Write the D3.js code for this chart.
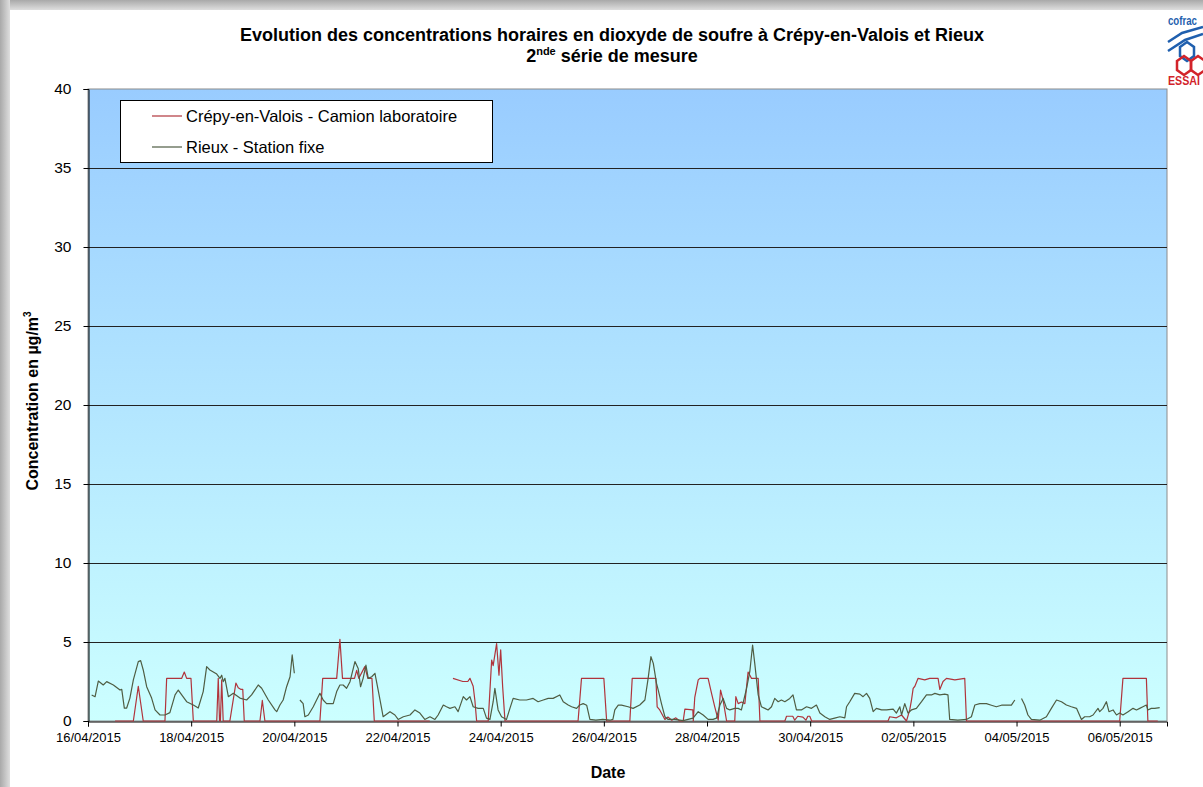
<!DOCTYPE html>
<html><head><meta charset="utf-8">
<script src="https://cdn.jsdelivr.net/npm/d3@7"></script>
<style>html,body{margin:0;padding:0;background:#fff;overflow:hidden}svg{display:block;font-family:"Liberation Sans",Arial,sans-serif}</style>
</head><body><svg id="c" width="1203" height="787"></svg>
<script>
// ---- data (hours since 16/04/2015 00:00, values in µg/m3) ----
const seriesNames = ["Crépy-en-Valois - Camion laboratoire", "Rieux - Station fixe"];
const tickLabels = ["16/04/2015","18/04/2015","20/04/2015","22/04/2015","24/04/2015","26/04/2015","28/04/2015","30/04/2015","02/05/2015","04/05/2015","06/05/2015"];
const yTicks = [0,5,10,15,20,25,30,35,40];

const rieuxHours = [1.7,3.3,4.8,7.1,8.7,11.8,14.9,15.7,16.9,18,19.5,21.1,23.4,24.5,25.7,27.3,29.6,31.2,33.5,35.8,38.1,40.5,42,43.6,45.9,49,51.3,53.6,55.2,56.7,59.9,61.4,62.2,62.9,63.7,65.3,67.6,70.7,73.8,76.1,79.2,80.8,83.9,87,87.8,89.3,90.8,92.4,94,95,96,97.3,
98.6,100.1,100.9,102.5,104.8,107.9,109.4,111,114.1,115.7,117.2,118.7,120.3,121.9,124.2,125.7,126.8,128,129.3,130.4,132,133.5,135,136.6,137.3,140.5,142.8,144.3,146.7,149.8,152.1,154.4,156.7,159.1,161.4,162.9,165.3,166.8,168.4,170.7,172.2,174.6,176.1,177.7,179.2,181.5,183.9,185.4,187,188.5,189.3,190.8,192.4,194.7,196.3,197.8,200.9,204,207.1,209.4,211.8,214.1,216.4,219.5,221.1,223.4,225,227.3,228.8,230.4,232,233.5,236.3,239.5,242.8,244.2,245.1,246.7,248.2,251.3,253.6,256.7,259.1,260.6,261.9,263,264.5,265.3,266.8,268.4,269.9,273,276.9,281.5,283.9,286.2,288.5,290.8,292.4,294,295.5,297.1,298.6,300.9,302.5,304,306.4,307.9,309.2,310.2,311.8,313.3,314.9,316.4,318,319.5,321.1,322.6,324.2,326.5,328,329.6,331.9,334.3,336.6,338.9,340.5,342.8,345.1,347.4,349.8,352.1,352.9,354.4,356.7,359.1,360.6,362.2,363.7,365.3,366.8,369.2,371.5,374.6,376.1,377.7,378.5,380,381.5,383.1,385.4,387.8,390.1,392.4,394,396.3,398.6,400.1,400.9,404.7,408.7,411,412.6,414.9,418,420.3,422.6,425,427.3,429.6,431.2,432.8,
434.3,435.8,437.3,438.9,442.8,445.9,448.2,450.6,452.9,455.2,457.5,459.9,462.2,463.7,466,467.6,469.9,470.7,472.2,473.8,475,476.9,478.5,480,481.5,483.9,486.2,487.8,489.3,490.8,492.4,493.1,494.7,496.3,498.6];
const rieuxValues = [1.65,1.54,2.53,2.28,2.49,2.28,1.96,2.0,0.82,0.82,1.45,2.6,3.76,3.82,3.23,2.17,1.45,0.7,0.38,0.38,0.53,1.65,1.96,1.65,1.22,1.01,0.82,1.86,3.44,3.23,2.97,2.7,2.9,2.49,2.7,1.54,1.75,1.45,1.33,1.65,2.28,2.07,1.33,0.7,0.59,1.01,1.33,2.17,2.8,4.18,3.02,null,
1.33,1.1,0.27,0.38,0.9,1.75,1.33,1.1,1.1,1.86,2.28,2.28,2.07,2.49,3.76,3.33,2.17,2.7,3.54,2.7,2.8,3.02,1.96,0.8,0.27,0.59,0.38,0.1,0.27,0.38,0.7,0.5,0.1,0.27,0.1,0.38,1.01,0.9,0.8,0.9,0.59,1.54,1.33,1.54,0.9,0.8,0.8,0.18,0.1,1.22,2.07,0.7,0.27,0.1,0.8,1.43,1.33,1.33,1.43,1.22,1.33,1.43,1.43,1.65,1.22,1.01,0.9,0.8,1.01,1.1,1.0,0.1,0.05,0.1,0.05,0.1,0.7,1.01,1.0,0.9,0.8,1.01,1.33,2.7,4.07,3.65,2.38,1.96,1.1,0.27,0.1,0.1,0.02,0.18,0.59,0.38,0.1,0.1,0.18,1.01,1.43,0.8,0.7,0.8,0.8,0.7,2.07,3.12,4.81,3.65,1.65,0.9,0.8,0.7,0.9,1.43,1.22,1.33,1.22,1.43,1.65,0.7,0.7,0.9,0.8,1.01,0.5,0.27,0.1,0.18,0.27,0.2,0.9,1.22,1.75,1.7,1.54,1.75,1.43,0.59,0.8,0.7,0.7,0.75,0.5,0.9,0.38,1.1,0.5,0.7,0.8,1.22,1.65,1.65,1.75,1.65,1.7,1.65,0.1,0.05,0.1,0.27,1.01,1.1,1.1,1.0,0.9,1.0,1.0,1.0,1.33,null,
1.43,1.01,0.38,0.1,0.05,0.27,0.8,1.33,1.22,1.01,0.9,0.8,0.1,0.27,0.27,0.38,0.8,0.59,0.8,1.22,0.59,0.7,0.38,0.5,0.38,0.59,0.8,0.7,0.8,0.9,1.01,0.7,0.8,0.8,0.85];

const crepyHours = [12.6,21.1,23.4,25.7,35.8,36.6,43.6,44.8,45.9,47.9,49,59.9,60.6,61.2,61.6,62.2,62.9,66,68.8,69.9,71.2,72,72.7,80,81.1,82.3,107.9,109.2,115.7,117.2,118.4,124,125,126,128.8,130.2,132.1,133.2,159,160,
169.8,174.4,176.7,177.7,179.2,180,180.8,186.2,187.8,188.5,190.1,191.2,192,192.9,194,228,229.6,240,241.3,252.1,253.2,264.2,264.8,266,268.4,269.8,271.6,273.5,275.3,276.9,277.7,281.4,281.6,282.3,283.9,284.7,288.5,290.1,291.6,293.2,294.3,295.5,297.1,300.9,301.4,302.5,304,305.6,307.1,308.7,311.8,312.6,324.2,325,327.9,328.8,330.2,332.6,334,334.9,335.8,336.7,372.2,373,376.1,378.5,380.8,382.3,383.1,383.9,384.7,386.2,389.3,391.6,395.5,396.3,397.8,399.4,403.3,407.9,408.7,480,481.5,492.4,493.1,497.7];
const crepyValues = [0,0,2.2,0,0,2.7,2.7,3.1,2.7,2.7,0,0,2.7,0,0,2.6,0,0,2.4,2.1,2.0,2.0,0,0,1.3,0,0,2.7,2.7,5.17,2.7,2.7,3.2,2.7,3.44,2.7,2.7,0,0,null,
2.7,2.5,2.5,2.7,2.2,1.3,0,0,3.86,3.5,4.9,2.9,4.5,2.2,0,0,2.7,2.7,0,0,2.7,2.7,0.9,0.7,0.1,0.25,0.05,0.2,0,0,0.75,0.7,0,1.5,2.6,2.7,2.7,1.75,0.9,0.05,1.96,1.3,0,0,1.54,1.1,1.2,1.1,3.1,2.7,2.7,0,0,0.3,0.3,0.05,0.3,0.25,0.05,0.3,0.3,0,0,0.27,0.2,0.38,0,0.7,1.3,2.07,2.2,2.7,2.6,2.7,2.7,2.0,2.5,2.7,2.6,2.7,0,0,2.7,2.7,0,0];

const colors = ["#b0343c", "#4f5d43"];

// ---- chart ----
const svg = d3.select("#c");
const W = 1203, H = 787;
const m = {left: 88, right: 1167, top: 89, bottom: 721};
const t0 = Date.UTC(2015, 3, 16);
const toDate = h => new Date(t0 + h * 3600e3);
const parse = d3.utcParse("%d/%m/%Y");

const x = d3.scaleUtc().domain([toDate(0), toDate(502)]).range([m.left, m.right]);
const y = d3.scaleLinear().domain([0, 40]).range([m.bottom, m.top]);

const defs = svg.append("defs");
const g1 = defs.append("linearGradient").attr("id","bg").attr("x1",0).attr("y1",0).attr("x2",0).attr("y2",1);
g1.append("stop").attr("offset","0%").attr("stop-color","#99ccff");
g1.append("stop").attr("offset","100%").attr("stop-color","#ccffff");
const gt = defs.append("linearGradient").attr("id","shT").attr("x1",0).attr("y1",0).attr("x2",0).attr("y2",1);
gt.append("stop").attr("offset","0%").attr("stop-color","#a9a9a9");
gt.append("stop").attr("offset","100%").attr("stop-color","#dedede");
const gl = defs.append("linearGradient").attr("id","shL").attr("x1",0).attr("y1",0).attr("x2",1).attr("y2",0);
gl.append("stop").attr("offset","0%").attr("stop-color","#a9a9a9");
gl.append("stop").attr("offset","100%").attr("stop-color","#dedede");

svg.append("rect").attr("width",W).attr("height",H).attr("fill","#fff");
svg.append("rect").attr("x",0).attr("y",0).attr("width",W).attr("height",10).attr("fill","url(#shT)");
svg.append("rect").attr("x",0).attr("y",0).attr("width",10).attr("height",H).attr("fill","url(#shL)");
svg.append("rect").attr("x",10).attr("y",10).attr("width",W-10).attr("height",H-10).attr("fill","#fff");

// plot area
svg.append("rect").attr("x",m.left).attr("y",m.top).attr("width",m.right-m.left).attr("height",m.bottom-m.top)
  .attr("fill","url(#bg)").attr("stroke","#8c8c8c").attr("stroke-width",1);

// gridlines
svg.append("g").selectAll("line").data(yTicks.filter(v => v > 0 && v < 40)).join("line")
  .attr("x1",m.left).attr("x2",m.right).attr("y1",d => Math.round(y(d))+0.5).attr("y2",d => Math.round(y(d))+0.5)
  .attr("stroke","#222").attr("stroke-width",1);

// axes
const yAxis = d3.axisLeft(y).tickValues(yTicks).tickSize(5).tickPadding(12).tickFormat(d3.format("d"));
const ya = svg.append("g").attr("transform",`translate(${m.left+0.5},0)`).call(yAxis);
ya.select(".domain").attr("stroke","#000");
ya.selectAll("text").attr("font-size",15.5).attr("fill","#000").attr("font-family","Liberation Sans, Arial, sans-serif");

const xAxis = d3.axisBottom(x).tickValues(tickLabels.map(parse)).tickSize(5).tickPadding(6).tickFormat(d3.utcFormat("%d/%m/%Y"));
const xa = svg.append("g").attr("transform",`translate(0,${m.bottom+0.5})`).call(xAxis);
xa.select(".domain").attr("stroke","#000");
xa.selectAll("text").attr("font-size",13).attr("fill","#000").attr("font-family","Liberation Sans, Arial, sans-serif");

// lines
const mk = (hs, vs) => hs.map((h,i) => ({d: toDate(h), v: vs[i]}));
const line = d3.line().defined(p => p.v != null).x(p => x(p.d)).y(p => y(p.v));
const series = [mk(crepyHours, crepyValues), mk(rieuxHours, rieuxValues)];
svg.append("g").selectAll("path").data(series).join("path")
  .attr("d", line).attr("fill","none").attr("stroke",(d,i) => colors[i]).attr("stroke-width",1.2).attr("stroke-linejoin","round");

// legend
const lg = svg.append("g");
lg.append("rect").attr("x",120.5).attr("y",100.5).attr("width",372).attr("height",62).attr("fill","#fff").attr("stroke","#000");
seriesNames.forEach((n,i) => {
  const yy = 116 + i*31;
  lg.append("line").attr("x1",152).attr("x2",182).attr("y1",yy).attr("y2",yy).attr("stroke",colors[i]).attr("stroke-width",1.2);
  lg.append("text").attr("x",186).attr("y",yy+6).attr("font-size",16.5).attr("fill","#000").text(n);
});

// titles
svg.append("text").attr("x",612).attr("y",41).attr("text-anchor","middle").attr("font-weight","bold").attr("font-size",18).attr("fill","#000")
  .text("Evolution des concentrations horaires en dioxyde de soufre à Crépy-en-Valois et Rieux");
const t2 = svg.append("text").attr("x",612).attr("y",62).attr("text-anchor","middle").attr("font-weight","bold").attr("font-size",18).attr("fill","#000");
t2.append("tspan").text("2");
t2.append("tspan").attr("font-size",11).attr("dy",-7).text("nde");
t2.append("tspan").attr("dy",7).text(" série de mesure");

const yt = svg.append("text").attr("transform","translate(38,401) rotate(-90)").attr("text-anchor","middle").attr("font-weight","bold").attr("font-size",16).attr("fill","#000");
yt.append("tspan").text("Concentration  en µg/m");
yt.append("tspan").attr("font-size",10).attr("dy",-7).text("3");

svg.append("text").attr("x",608).attr("y",778).attr("text-anchor","middle").attr("font-weight","bold").attr("font-size",16).attr("fill","#000").text("Date");

// logo (partially visible at the right edge)
const lo = svg.append("g");
lo.append("text").attr("x",1168).attr("y",25).attr("font-size",12).attr("font-weight","bold").attr("fill","#1f5fae")
  .attr("textLength",29).attr("lengthAdjust","spacingAndGlyphs").text("cofrac");
lo.append("path").attr("d","M1168,42 L1182,33 L1203,27 M1168,51 L1185,40 L1203,34").attr("stroke","#1f5fae").attr("stroke-width",2.5).attr("fill","none");
lo.append("path").attr("d","M1180,47 l7,-5 l7,5 l0,9 l-7,5 l-7,-5 z").attr("stroke","#1f5fae").attr("stroke-width",2.5).attr("fill","none");
lo.append("path").attr("d","M1177,61 l7,-5 l7,5 l0,9 l-7,5 l-7,-5 z").attr("stroke","#d2232a").attr("stroke-width",2.5).attr("fill","none");
lo.append("path").attr("d","M1191,61 l7,-5 l7,5 l0,9 l-7,5 l-7,-5 z").attr("stroke","#d2232a").attr("stroke-width",2.5).attr("fill","none");
lo.append("text").attr("x",1168).attr("y",85).attr("font-size",12).attr("font-weight","bold").attr("fill","#d2232a")
  .attr("textLength",32).attr("lengthAdjust","spacingAndGlyphs").text("ESSAI");
</script></body></html>
